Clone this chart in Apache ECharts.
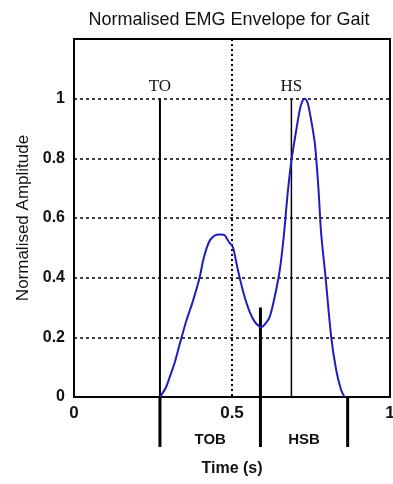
<!DOCTYPE html>
<html>
<head>
<meta charset="utf-8">
<script src="https://cdn.jsdelivr.net/npm/echarts@6/dist/echarts.min.js"></script>
<style>
  html, body { margin: 0; padding: 0; background: #fff; }
  #chart { width: 393px; height: 484px; }
</style>
</head>
<body>
<div id="chart"></div>
<script>
// EMG envelope samples (time in seconds, normalised amplitude)
const timeS = [0.272, 0.290, 0.303, 0.320, 0.335, 0.356, 0.377, 0.398, 0.408, 0.420,
  0.430, 0.441, 0.451, 0.465, 0.477, 0.486, 0.493, 0.503, 0.511, 0.519,
  0.530, 0.540, 0.556, 0.572, 0.587, 0.593, 0.605, 0.619, 0.635, 0.651,
  0.663, 0.677, 0.688, 0.698, 0.714, 0.722, 0.730, 0.738, 0.745, 0.761,
  0.767, 0.774, 0.782, 0.796, 0.814, 0.830, 0.845, 0.856];
const amplitude = [0.000, 0.030, 0.067, 0.120, 0.179, 0.257, 0.324, 0.402, 0.455, 0.500,
  0.525, 0.538, 0.544, 0.545, 0.542, 0.527, 0.516, 0.502, 0.465, 0.424,
  0.375, 0.335, 0.285, 0.252, 0.236, 0.234, 0.245, 0.268, 0.335, 0.424,
  0.530, 0.692, 0.793, 0.860, 0.960, 0.990, 1.000, 0.990, 0.960, 0.860,
  0.793, 0.692, 0.550, 0.402, 0.201, 0.089, 0.025, 0.000];

// Gait events: toe-off and heel-strike
const eventLabels = ['TO', 'HS'];
const eventTimes = [0.272, 0.688];
const eventLevel = 1.0;

// Analysis windows below the time axis
const phaseBounds = [0.272, 0.59, 0.866];
const phaseLabels = ['TOB', 'HSB'];
const boundaryLevels = [0, 0.3, 0];

// Axis ticks
const xTicks = [0, 0.5, 1];
const yTicks = [0, 0.2, 0.4, 0.6, 0.8, 1];

const FONT = '"Liberation Sans", Arial, sans-serif';
const chart = echarts.init(document.getElementById('chart'));

const curve = timeS.map((t, i) => [t, amplitude[i]]);

chart.setOption({
  animation: false,
  backgroundColor: '#fff',
  title: {
    text: 'Normalised EMG Envelope for Gait',
    left: 229,
    top: 11,
    padding: 0,
    textAlign: 'center',
    textStyle: { fontFamily: FONT, fontSize: 18, fontWeight: 'normal', color: '#111' }
  },
  grid: {
    left: 74, right: 3, top: 39, bottom: 87,
    outerBoundsMode: 'none',
    containLabel: false,
    show: true, borderColor: '#000', borderWidth: 2, backgroundColor: 'transparent'
  },
  xAxis: {
    type: 'value',
    min: xTicks[0], max: xTicks[xTicks.length - 1], interval: 0.5,
    axisLine: { show: false },
    axisTick: { show: false },
    axisLabel: {
      color: '#111', fontFamily: FONT, fontSize: 17, fontWeight: 'bold', margin: 8,
      formatter: v => String(v)
    },
    splitLine: {
      show: true, showMinLine: false, showMaxLine: false,
      lineStyle: { color: '#000', width: 2, type: [2, 3] }
    },
    name: 'Time (s)',
    nameLocation: 'middle',
    nameGap: 64,
    nameTextStyle: { color: '#111', fontFamily: FONT, fontSize: 16, fontWeight: 'bold' }
  },
  yAxis: {
    type: 'value',
    min: 0, max: 1.2, interval: 0.2,
    axisLine: { show: false },
    axisTick: { show: false },
    axisLabel: {
      color: '#111', fontFamily: FONT, fontSize: 16, fontWeight: 'bold', margin: 9,
      formatter: v => (yTicks.some(t => Math.abs(t - v) < 1e-6) ? String(+v.toFixed(1)) : '')
    },
    splitLine: {
      show: true, showMinLine: false, showMaxLine: false,
      lineStyle: { color: '#000', width: 1.5, type: [3, 3] }
    },
    name: 'Normalised Amplitude',
    nameLocation: 'middle',
    nameGap: 42,
    nameTextStyle: { color: '#111', fontFamily: FONT, fontSize: 17 }
  },
  series: [
    {
      name: 'envelope',
      type: 'line',
      data: curve,
      showSymbol: false,
      smooth: 0.3,
      lineStyle: { color: '#1e1ebe', width: 2 },
      z: 5
    },
    {
      // Event markers with their labels above the 1.0 grid line
      name: 'events',
      type: 'custom',
      data: eventTimes.map((t, i) => [t, eventLevel, i]),
      clip: false,
      z: 4,
      renderItem: (params, api) => {
        const t = api.value(0);
        const top = api.coord([t, api.value(1)]);
        const base = api.coord([t, 0]);
        const idx = api.value(2);
        return {
          type: 'group',
          children: [
            {
              type: 'line',
              shape: { x1: top[0], y1: top[1], x2: base[0], y2: base[1] },
              style: { stroke: '#000', lineWidth: idx === 0 ? 2 : 1.5 }
            },
            {
              type: 'text',
              x: top[0], y: top[1] - 12,
              style: {
                text: eventLabels[idx],
                fill: '#111',
                font: '17px "Liberation Serif", "Times New Roman", serif',
                align: 'center', verticalAlign: 'middle'
              }
            }
          ]
        };
      }
    },
    {
      // Window boundaries reaching below the time axis
      name: 'windows',
      type: 'custom',
      data: phaseBounds.map((t, i) => [t, boundaryLevels[i]]),
      clip: false,
      z: 4,
      renderItem: (params, api) => {
        const t = api.value(0);
        const top = api.coord([t, api.value(1)]);
        const base = api.coord([t, 0]);
        return {
          type: 'line',
          shape: { x1: top[0], y1: top[1], x2: base[0], y2: base[1] + 50 },
          style: { stroke: '#000', lineWidth: 3 }
        };
      }
    },
    {
      name: 'windowLabels',
      type: 'custom',
      data: phaseLabels.map((s, i) => [(phaseBounds[i] + phaseBounds[i + 1]) / 2, 0, i]),
      clip: false,
      z: 4,
      renderItem: (params, api) => {
        const p = api.coord([api.value(0), 0]);
        return {
          type: 'text',
          x: p[0], y: p[1] + 43,
          style: {
            text: phaseLabels[api.value(2)],
            fill: '#111',
            font: 'bold 15px "Liberation Sans", Arial, sans-serif',
            align: 'center', verticalAlign: 'middle'
          }
        };
      }
    }
  ]
});
</script>
</body>
</html>
